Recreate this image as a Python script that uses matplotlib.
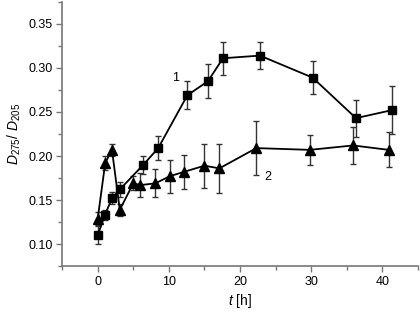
import matplotlib
matplotlib.use("Agg")
import matplotlib.pyplot as plt
from matplotlib.ticker import MultipleLocator

plt.rcParams['font.family'] = ['Liberation Sans', 'DejaVu Sans']
plt.rcParams['mathtext.fontset'] = 'custom'
plt.rcParams['mathtext.it'] = 'Liberation Sans:italic'
plt.rcParams['mathtext.rm'] = 'Liberation Sans'

t1 = [0, 1, 2, 3.1, 6.4, 8.5, 12.6, 15.5, 17.6, 22.8, 30.2, 36.3, 41.3]
y1 = [0.110, 0.133, 0.152, 0.162, 0.190, 0.209, 0.269, 0.285, 0.311, 0.314, 0.289, 0.243, 0.252]
e1 = [0.010, 0.006, 0.007, 0.008, 0.010, 0.014, 0.016, 0.019, 0.019, 0.015, 0.019, 0.021, 0.027]

t2 = [0, 1.05, 2, 3.1, 5, 6, 8.1, 10.1, 12.1, 15, 17.1, 22.3, 29.8, 35.9, 40.9]
y2 = [0.129, 0.192, 0.207, 0.139, 0.169, 0.167, 0.169, 0.177, 0.182, 0.189, 0.186, 0.209, 0.207, 0.212, 0.207]
e2 = [0.007, 0.008, 0.007, 0.007, 0.008, 0.014, 0.016, 0.019, 0.019, 0.025, 0.028, 0.031, 0.017, 0.021, 0.020]

fig = plt.figure(figsize=(4.2, 3.12), dpi=100)
ax = fig.add_axes([0.148, 0.147, 0.847, 0.847])

ax.errorbar(t1, y1, yerr=e1, color='black', ecolor='#333333', elinewidth=1.0,
            capsize=2.5, capthick=1.0, marker='s', markersize=5.5, linewidth=1.3)
ax.errorbar(t2, y2, yerr=e2, color='black', ecolor='#333333', elinewidth=1.0,
            capsize=2.5, capthick=1.0, marker='^', markersize=7, linewidth=1.3)

ax.text(10.9, 0.289, '1', fontsize=9, ha='center', va='center')
ax.text(23.9, 0.176, '2', fontsize=9, ha='center', va='center')

ax.set_xlim(-5, 45)
ax.set_ylim(0.075, 0.375)
ax.xaxis.set_major_locator(MultipleLocator(10))
ax.xaxis.set_minor_locator(MultipleLocator(5))
ax.yaxis.set_major_locator(MultipleLocator(0.05))
ax.yaxis.set_minor_locator(MultipleLocator(0.025))
ax.yaxis.set_major_formatter(matplotlib.ticker.FormatStrFormatter('%.2f'))

for s in ['top', 'right']:
    ax.spines[s].set_visible(False)
for s in ['left', 'bottom']:
    ax.spines[s].set_color('#777777')
    ax.spines[s].set_linewidth(1.2)
ax.tick_params(which='both', direction='out', color='#777777', width=1.0, labelsize=9, pad=3)
ax.tick_params(which='major', length=4)
ax.tick_params(which='minor', length=3)

ax.set_xlabel('$t$ [h]', fontsize=10, labelpad=3)
ax.set_ylabel('$D_{275}$/ $D_{205}$', fontsize=10, labelpad=4)

fig.savefig('out.png', dpi=100)
